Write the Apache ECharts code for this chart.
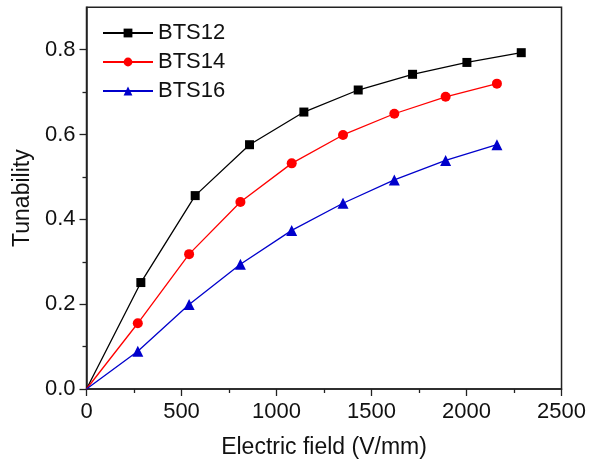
<!DOCTYPE html>
<html>
<head>
<meta charset="utf-8">
<script src="https://cdn.jsdelivr.net/npm/echarts@6/dist/echarts.min.js"></script>
<style>
  html, body { margin: 0; padding: 0; background: #fff; }
  #chart { width: 589px; height: 464px; }
</style>
</head>
<body>
<div id="chart"></div>
<script>
// Electric field (V/mm) at each measurement point
const fieldBTS12 = [0, 286, 572, 858, 1144, 1430, 1716, 2002, 2288];
const fieldBTS14 = [0, 270, 540, 810, 1080, 1350, 1620, 1890, 2160];
const fieldBTS16 = [0, 270, 540, 810, 1080, 1350, 1620, 1890, 2160];

// Tunability values
const tunBTS12 = [0, 0.251, 0.456, 0.576, 0.653, 0.705, 0.742, 0.770, 0.793];
const tunBTS14 = [0, 0.155, 0.318, 0.441, 0.532, 0.599, 0.649, 0.689, 0.720];
const tunBTS16 = [0, 0.089, 0.199, 0.294, 0.374, 0.438, 0.493, 0.539, 0.576];

const seriesNames = ['BTS12', 'BTS14', 'BTS16'];

// Axis ticks
const xMajorTicks = [0, 500, 1000, 1500, 2000, 2500];
const xMinorTicks = [250, 750, 1250, 1750, 2250];
const yMajorTicks = [0, 0.2, 0.4, 0.6, 0.8];
const yMinorTicks = [0.1, 0.3, 0.5, 0.7];

const FONT = '"Liberation Sans", Arial, sans-serif';
const AXIS_COLOR = '#222';
const TEXT_COLOR = '#111';

function pairs(xs, ys) {
  // first point sits on the axes corner: keep the line, hide its marker
  return xs.map((x, i) => i === 0 ? { value: [x, ys[i]], symbol: 'none' } : [x, ys[i]]);
}

function lineSeries(name, xs, ys, color, symbol, size) {
  return {
    name: name,
    type: 'line',
    data: pairs(xs, ys),
    symbol: symbol,
    symbolSize: size,
    showAllSymbol: true,
    clip: false,
    lineStyle: { color: color, width: 1.3 },
    itemStyle: { color: color },
    emphasis: { disabled: true },
    animation: false
  };
}

const tickLine = { color: AXIS_COLOR, width: 1.3 };

const chart = echarts.init(document.getElementById('chart'), null, { renderer: 'canvas' });

chart.setOption({
  backgroundColor: '#fff',
  animation: false,
  grid: {
    left: 86.5, right: 25.7, top: 7.3, bottom: 72.5,
    show: true, borderColor: AXIS_COLOR, borderWidth: 1.5, backgroundColor: 'transparent'
  },
  legend: {
    data: seriesNames,
    orient: 'vertical',
    left: 97,
    top: 17,
    itemWidth: 50,
    itemHeight: 11,
    itemGap: 7,
    textStyle: { fontFamily: FONT, fontSize: 22, color: TEXT_COLOR, lineHeight: 22 }
  },
  xAxis: [
    {
      type: 'value',
      min: 0, max: 2500,
      name: 'Electric field (V/mm)',
      nameLocation: 'middle',
      nameGap: 47,
      nameTextStyle: { fontFamily: FONT, fontSize: 23, color: TEXT_COLOR },
      axisLine: { show: true, onZero: false, lineStyle: { color: AXIS_COLOR, width: 1.5 } },
      axisTick: { show: true, inside: false, length: 7, lineStyle: tickLine, customValues: xMajorTicks },
      axisLabel: { fontFamily: FONT, fontSize: 22, color: TEXT_COLOR, margin: 12,
                   customValues: xMajorTicks, formatter: v => String(v) },
      splitLine: { show: false }
    },
    {
      // short ticks between the labelled ones
      type: 'value',
      position: 'bottom',
      min: 0, max: 2500,
      axisLine: { show: false },
      axisTick: { show: true, inside: false, length: 4, lineStyle: tickLine, customValues: xMinorTicks },
      axisLabel: { show: false },
      splitLine: { show: false }
    }
  ],
  yAxis: [
    {
      type: 'value',
      min: 0, max: 0.9,
      name: 'Tunability',
      nameLocation: 'middle',
      nameGap: 51,
      nameTextStyle: { fontFamily: FONT, fontSize: 23, color: TEXT_COLOR },
      axisLine: { show: true, onZero: false, lineStyle: { color: AXIS_COLOR, width: 1.5 } },
      axisTick: { show: true, inside: false, length: 7, lineStyle: tickLine, customValues: yMajorTicks },
      axisLabel: { fontFamily: FONT, fontSize: 22, color: TEXT_COLOR, margin: 11,
                   customValues: yMajorTicks, formatter: v => v.toFixed(1) },
      splitLine: { show: false }
    },
    {
      // short ticks between the labelled ones
      type: 'value',
      position: 'left',
      min: 0, max: 0.9,
      axisLine: { show: false },
      axisTick: { show: true, inside: false, length: 4, lineStyle: tickLine, customValues: yMinorTicks },
      axisLabel: { show: false },
      splitLine: { show: false }
    }
  ],
  series: [
    lineSeries(seriesNames[0], fieldBTS12, tunBTS12, '#000000', 'rect', 9),
    lineSeries(seriesNames[1], fieldBTS14, tunBTS14, '#ff0000', 'circle', 10),
    lineSeries(seriesNames[2], fieldBTS16, tunBTS16, '#0000cc', 'triangle', 11)
  ]
});
</script>
</body>
</html>
